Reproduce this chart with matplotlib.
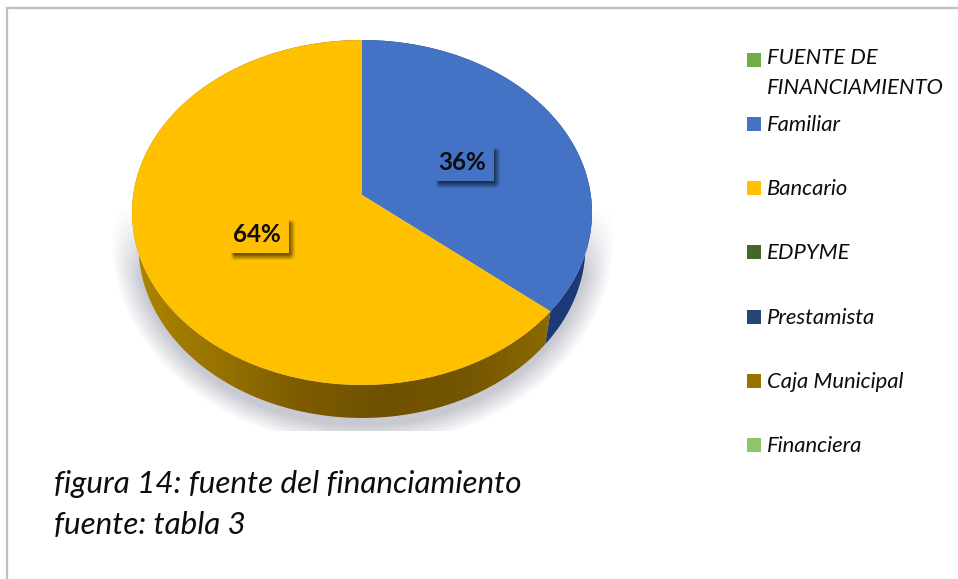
import numpy as np
import matplotlib
matplotlib.use("Agg")
import matplotlib.pyplot as plt
from matplotlib.colors import LinearSegmentedColormap
from matplotlib.patches import Rectangle, Polygon
from matplotlib.transforms import Transform

plt.rcParams['font.family'] = ['Lato', 'DejaVu Sans']

categories = ["FUENTE DE\nFINANCIAMIENTO", "Familiar", "Bancario", "EDPYME",
              "Prestamista", "Caja Municipal", "Financiera"]
values = [0, 36, 64, 0, 0, 0, 0]
colors = ["#70ad47", "#4472c4", "#ffc000", "#43682b", "#264478", "#997300", "#8fc46c"]
wall_colors = {
    "Familiar": ["#1c3a78", "#1c3a78"],
    "Bancario": ["#ad8500", "#987300", "#7d5c00", "#6e5000", "#755600", "#8a6a00"],
}
captions = ["figura 14: fuente del financiamiento", "fuente: tabla 3"]


class Tilt(Transform):
    # perspective view of the unit pie, result in pixels
    input_dims = 2
    output_dims = 2

    def transform_non_affine(self, v):
        v = np.asarray(v, dtype=float)
        w = 1 + 0.1014 * v[:, 1]
        return np.column_stack((362 + 228.8 * v[:, 0] / w, 195 - 170.7 * v[:, 1] / w))


fig = plt.figure(figsize=(9.58, 5.79), dpi=100)
ax = fig.add_axes([0, 0, 1, 1])
tilt = Tilt()
depth = 33

wedges, _ = ax.pie(values, colors=colors, startangle=90, counterclock=False,
                   wedgeprops={"linewidth": 0})
for w in wedges:
    w.set_transform(tilt + ax.transData)
    w.set_zorder(4)

# soft shadow under the pie
yy, xx = np.mgrid[200:431, 100:625]
r = np.sqrt(((xx - 362) / 252) ** 2 + ((yy - 238) / 208) ** 2)
alpha = np.clip((1.0 - r) / 0.10, 0, 1) * np.clip((yy - 205) / 70, 0, 1) * 0.5
shadow = np.zeros(xx.shape + (4,))
shadow[..., :3] = (0.58, 0.58, 0.65)
shadow[..., 3] = alpha
ax.imshow(shadow, extent=(100, 625, 431, 200), aspect="auto", zorder=1)

# side wall of each slice
for w, name in zip(wedges, categories):
    if w.theta1 == w.theta2:
        continue
    t = np.radians(np.linspace(w.theta1, w.theta2, 200))
    rim = tilt.transform(np.column_stack((np.cos(t), np.sin(t))))
    low = rim + [0, depth]
    low[:, 0] = 362 + (low[:, 0] - 362) * 0.972
    poly = Polygon(np.vstack((rim, low[::-1])), closed=True, facecolor="none",
                   edgecolor="none", transform=ax.transData)
    ax.add_patch(poly)
    cmap = LinearSegmentedColormap.from_list(name, wall_colors[name])
    im = ax.imshow(np.linspace(0, 1, 256).reshape(1, -1), cmap=cmap,
                   extent=(rim[:, 0].min(), rim[:, 0].max(), low[:, 1].max(), rim[:, 1].min()),
                   aspect="auto", zorder=3)
    im.set_clip_path(poly)

# value labels with box and blurred drop shadow
label_xy = {"Familiar": (462, 162), "Bancario": (257, 234)}
for name, val, col in zip(categories, values, colors):
    if val == 0:
        continue
    lx, ly = label_xy[name]
    sy, sx = np.mgrid[ly - 30:ly + 34, lx - 40:lx + 44]
    ramp_x = np.clip((sx - (lx - 27)) / 4, 0, 1) * np.clip((lx + 38 - sx) / 6, 0, 1)
    ramp_y = np.clip((sy - (ly - 15)) / 4, 0, 1) * np.clip((ly + 26 - sy) / 6, 0, 1)
    box_shadow = np.zeros(sx.shape + (4,))
    box_shadow[..., 3] = ramp_x * ramp_y * 0.55
    ax.imshow(box_shadow, extent=(lx - 40, lx + 44, ly + 34, ly - 30), aspect="auto", zorder=5)
    ax.add_patch(Rectangle((lx - 30, ly - 20), 62, 39, facecolor=col, edgecolor="none", zorder=5.5))
    ax.text(lx, ly, f"{val}%", fontsize=17.5, fontweight="bold", color="#0d0d0d",
            ha="center", va="center", zorder=6)

# legend
legend_y = [59.5, 124, 188, 252, 316.5, 381, 445]
for name, col, y in zip(categories, colors, legend_y):
    ax.add_patch(Rectangle((747, y - 7), 14, 14, facecolor=col, edgecolor="none"))
    if "\n" in name:
        ax.text(767, y - 11, name, fontsize=15.8, style="italic", color="#0d0d0d",
                va="top", linespacing=1.58)
    else:
        ax.text(767, y + 1, name, fontsize=15.8, style="italic", color="#0d0d0d", va="center")

# caption
ax.text(54, 484, captions[0], fontsize=22.6, style="italic", color="#0d0d0d", va="center")
ax.text(54, 525, captions[1], fontsize=22.6, style="italic", color="#0d0d0d", va="center")

# chart frame, top and left only
ax.plot([7, 7, 958], [579, 8, 8], color="#bfbfbf", lw=1.6, solid_joinstyle="miter")

ax.set_aspect("auto")
ax.set_xlim(0, 958)
ax.set_ylim(579, 0)
ax.axis("off")
fig.savefig("out.png", dpi=100, facecolor="white")
